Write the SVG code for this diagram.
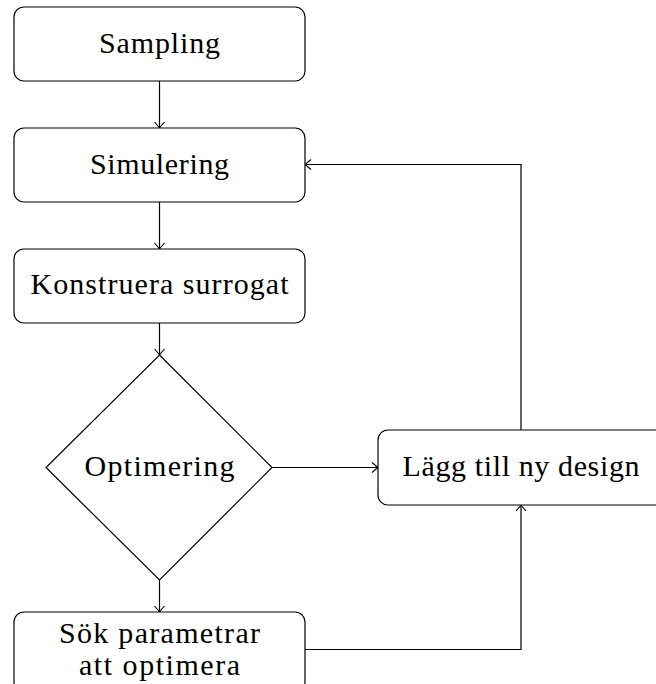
<svg xmlns="http://www.w3.org/2000/svg" width="656" height="684" viewBox="0 0 656 684">
<style>
.box{fill:#fff;stroke:#000;stroke-width:1.2}
.lbl{font-family:"Liberation Serif","DejaVu Serif",serif;font-size:30px;fill:#000;text-anchor:middle}
.edge{fill:none;stroke:#000;stroke-width:1.2;marker-end:url(#arr)}
</style>
<defs>
<marker id="arr" markerUnits="userSpaceOnUse" markerWidth="14" markerHeight="14" viewBox="-8 -7 10 14" refX="0" refY="0" orient="auto">
<path d="M-6,-5 Q-1.5,-1 0,0 Q-1.5,1 -6,5" fill="none" stroke="#000" stroke-width="1.1"/>
</marker>
</defs>
<g id="connectors">
<path class="edge" d="M159.5,81 V128"/>
<path class="edge" d="M159.5,202 V249"/>
<path class="edge" d="M159.5,323 V355"/>
<path class="edge" d="M159.5,580 V612"/>
<path class="edge" d="M272,467.5 H378"/>
<path class="edge" d="M521,430 V164.5 H305"/>
<path class="edge" d="M305,649.5 H521 V505"/>
</g>
<g id="sampling"><rect class="box" x="14" y="7" width="291" height="74" rx="10"/><text class="lbl" x="159.5" y="53" textLength="121">Sampling</text></g>
<g id="simulering"><rect class="box" x="14" y="128" width="291" height="74" rx="10"/><text class="lbl" x="159.5" y="174" textLength="139">Simulering</text></g>
<g id="konstruera"><rect class="box" x="14" y="249" width="291" height="74" rx="10"/><text class="lbl" x="159.5" y="294" textLength="258">Konstruera surrogat</text></g>
<g id="optimering"><polygon class="box" points="159.5,355 272,467.5 159.5,580 46,467.5"/><text class="lbl" x="159.5" y="476" textLength="150">Optimering</text></g>
<g id="lagg"><rect class="box" x="378" y="430" width="290" height="75" rx="10"/><text class="lbl" x="521" y="476" textLength="237">Lägg till ny design</text></g>
<g id="sok"><rect class="box" x="14" y="612" width="291" height="80" rx="10"/><text class="lbl" x="159.5" y="643" textLength="201">Sök parametrar</text><text class="lbl" x="159.5" y="675" textLength="161">att optimera</text></g>
</svg>
